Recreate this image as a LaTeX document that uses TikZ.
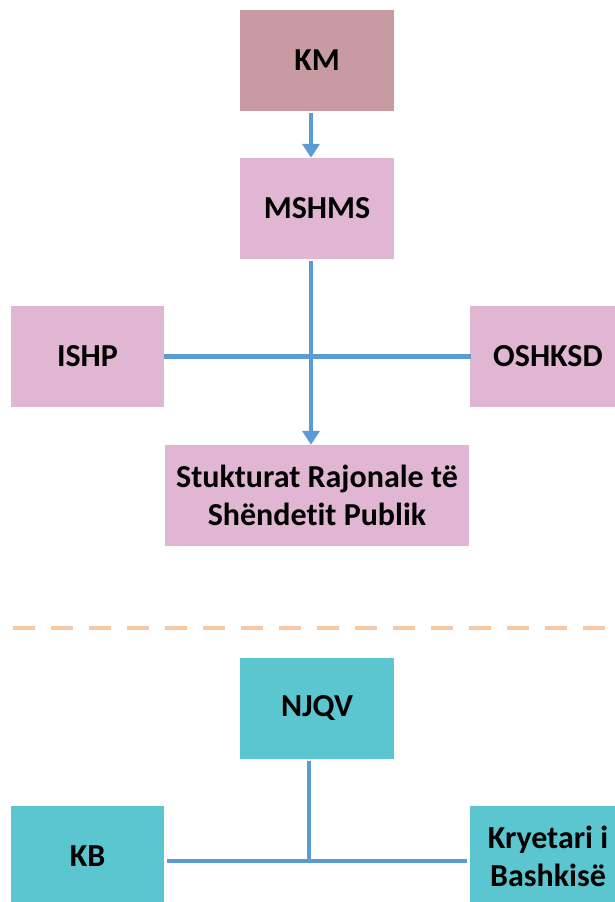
\documentclass[tikz,border=0pt]{standalone}
\usepackage{fontspec}
\setmainfont{Carlito}[Ligatures=NoCommon]
\usetikzlibrary{arrows.meta}
\definecolor{kmc}{HTML}{C89BA3}
\definecolor{pinkc}{HTML}{E0B6D2}
\definecolor{tealc}{HTML}{5BC6CF}
\definecolor{linec}{HTML}{5B9BD5}
\definecolor{dashc}{HTML}{F8C8A6}
\begin{document}
\begin{tikzpicture}[x=1pt,y=-1pt,
  box/.style={rectangle, minimum width=154pt, minimum height=101pt, inner sep=0pt,
    font=\fontsize{32}{38}\selectfont\bfseries, align=center, text=black},
  pinkbox/.style={box, fill=pinkc},
  tealbox/.style={box, fill=tealc},
  conn/.style={draw=linec, line width=4.5pt},
  arr/.style={conn, -{Triangle[width=17pt,length=14pt]}},
  sep/.style={draw=dashc, line width=4pt, dash pattern=on 21.5pt off 16.5pt}]
\useasboundingbox (0,0) rectangle (614,902);
\node[box, fill=kmc] (KM) at (317,60.5) {KM};
\node[pinkbox] (MSHMS) at (317,208.5) {MSHMS};
\node[pinkbox, minimum width=153pt] (ISHP) at (87.5,356.5) {ISHP};
\node[pinkbox, minimum width=156pt] (OSHKSD) at (548,356.5) {OSHKSD};
\node[pinkbox, minimum width=304pt] (SRSP) at (317,495.5) {Stukturat Rajonale të\\Shëndetit Publik};
\node[tealbox] (NJQV) at (317,708.5) {NJQV};
\node[tealbox, minimum width=153pt] (KB) at (87.5,856.5) {KB};
\node[tealbox, minimum width=156pt] (KR) at (548,856.5) {Kryetari i\\Bashkisë};
\draw[arr, shorten <=2pt] ([xshift=-6pt]KM.south) -- ([xshift=-6pt]MSHMS.north);
\draw[conn, shorten >=-1pt] (ISHP.east) -- (OSHKSD.west);
\draw[arr, shorten <=2pt] ([xshift=-6pt]MSHMS.south) -- ([xshift=-6pt]SRSP.north);
\coordinate (d1) at (13,628);
\coordinate (d2) at (614,628);
\draw[sep] (d1) -- (d2);
\coordinate (J) at (309,863);
\draw[conn, shorten <=2pt] ([xshift=-8pt]NJQV.south) -- (J);
\draw[conn, shorten <=3pt, shorten >=3pt] ([yshift=-4.5pt]KB.east) -- ([yshift=-4.5pt]KR.west);
\end{tikzpicture}
\end{document}
